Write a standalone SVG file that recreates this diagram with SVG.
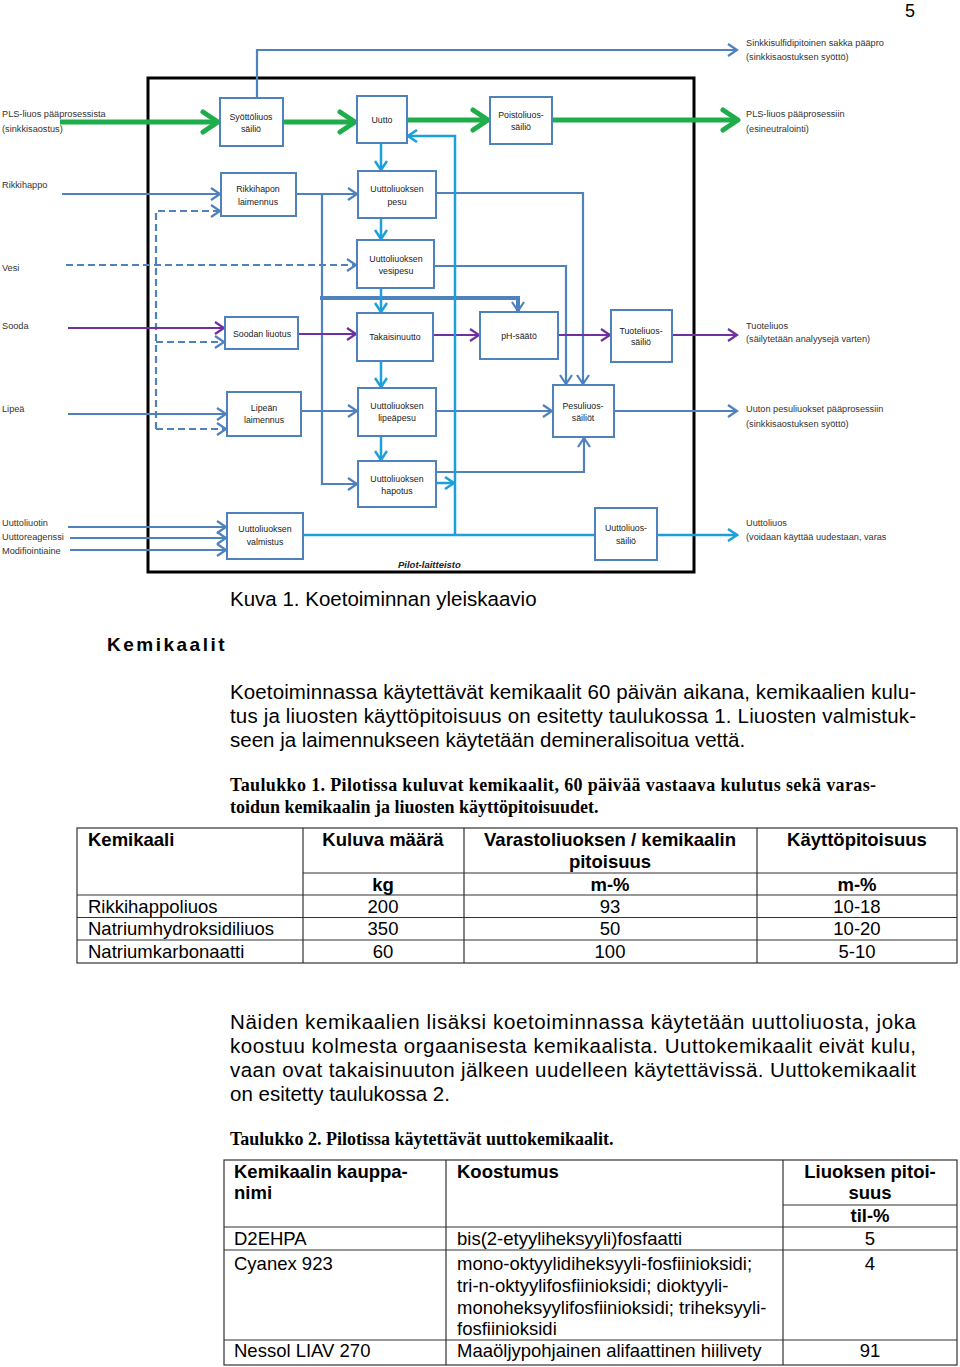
<svg xmlns="http://www.w3.org/2000/svg" width="960" height="1367" viewBox="0 0 960 1367">
<style>
.lbl{font-family:"Liberation Sans",Arial,sans-serif;font-size:9.2px;fill:#333}
.bt{font-family:"Liberation Sans",Arial,sans-serif;font-size:8.8px;fill:#222;text-anchor:middle}
.box{fill:#fff;stroke:#4f81bd;stroke-width:2}
.b{fill:none;stroke:#4f81bd;stroke-width:2.2}
.d{fill:none;stroke:#4f81bd;stroke-width:2.2;stroke-dasharray:7,4}
.c{fill:none;stroke:#1ca0dc;stroke-width:2.5}
.p{fill:none;stroke:#7030a0;stroke-width:2.2}
.g{fill:none;stroke:#1fad4b;stroke-width:5}
.body{font-family:"Liberation Sans",Arial,sans-serif;font-size:20.5px;fill:#000}
.cap{font-family:"Liberation Serif","Times New Roman",serif;font-size:18px;font-weight:bold;fill:#000}
.tt{font-family:"Liberation Sans",Arial,sans-serif;font-size:18.5px;fill:#000}
.th{font-family:"Liberation Sans",Arial,sans-serif;font-size:18.5px;font-weight:bold;fill:#000}
.mid{text-anchor:middle}
.tl{stroke:#333;stroke-width:1.2;fill:none}
</style>
<defs>
<marker id="ab" viewBox="0 0 12 14" refX="10" refY="7" markerWidth="12" markerHeight="14" markerUnits="userSpaceOnUse" orient="auto"><path d="M1,1 L10,7 L1,13" fill="none" stroke="#4f81bd" stroke-width="2.2"/></marker>
<marker id="ac" viewBox="0 0 12 14" refX="10" refY="7" markerWidth="12" markerHeight="14" markerUnits="userSpaceOnUse" orient="auto"><path d="M1,1 L10,7 L1,13" fill="none" stroke="#1ca0dc" stroke-width="2.5"/></marker>
<marker id="ap" viewBox="0 0 12 14" refX="10" refY="7" markerWidth="12" markerHeight="14" markerUnits="userSpaceOnUse" orient="auto"><path d="M1,1 L10,7 L1,13" fill="none" stroke="#7030a0" stroke-width="2.2"/></marker>
<marker id="ag" viewBox="0 0 22 26" refX="18" refY="13" markerWidth="22" markerHeight="26" markerUnits="userSpaceOnUse" orient="auto"><path d="M3,3 L18,13 L3,23" fill="none" stroke="#1fad4b" stroke-width="5" stroke-linecap="round" stroke-linejoin="round"/></marker>
</defs>
<rect width="960" height="1367" fill="#fff"/>
<text x="905" y="17" style="font-family:'Liberation Sans',Arial,sans-serif;font-size:18px">5</text>

<rect x="148" y="78" width="546" height="494" fill="none" stroke="#000" stroke-width="3"/>

<g id="connectors">
<path class="g" d="M60,122 H218" marker-end="url(#ag)"/>
<path class="g" d="M283,122 H355" marker-end="url(#ag)"/>
<path class="g" d="M407,120 H488" marker-end="url(#ag)"/>
<path class="g" d="M552,120 H738" marker-end="url(#ag)"/>
<path class="b" d="M257,98 V50 H737" marker-end="url(#ab)"/>
<path class="b" d="M62,194 H220" marker-end="url(#ab)"/>
<path class="b" d="M296,194 H357" marker-end="url(#ab)"/>
<path class="b" d="M322,194 V484 H357" marker-end="url(#ab)"/>
<path class="b" d="M68,414 H226" marker-end="url(#ab)"/>
<path class="b" d="M301,411 H357" marker-end="url(#ab)"/>
<path class="b" d="M68,527 H226" marker-end="url(#ab)"/>
<path class="b" d="M70,538 H226" marker-end="url(#ab)"/>
<path class="b" d="M70,550 H226" marker-end="url(#ab)"/>
<path class="b" style="stroke-width:4" d="M320,298 H518 V311" marker-end="url(#ab)"/>
<path class="b" d="M436,193 H583 V384" marker-end="url(#ab)"/>
<path class="b" d="M434,266 H566 V384" marker-end="url(#ab)"/>
<path class="b" d="M436,411 H552" marker-end="url(#ab)"/>
<path class="b" d="M436,472 H584 V438" marker-end="url(#ab)"/>
<path class="b" d="M614,411 H737" marker-end="url(#ab)"/>
<path class="d" d="M66,265 H356" marker-end="url(#ab)"/>
<path class="d" d="M156,429 V211 H220" marker-end="url(#ab)"/>
<path class="d" d="M156,342 H224" marker-end="url(#ab)"/>
<path class="d" d="M156,429 H226" marker-end="url(#ab)"/>
<path class="p" d="M68,328 H224" marker-end="url(#ap)"/>
<path class="p" d="M298,334 H356" marker-end="url(#ap)"/>
<path class="p" d="M433,335 H479" marker-end="url(#ap)"/>
<path class="p" d="M558,335 H610" marker-end="url(#ap)"/>
<path class="p" d="M672,335 H737" marker-end="url(#ap)"/>
<path class="c" d="M381,143 V170" marker-end="url(#ac)"/>
<path class="c" d="M381,218 V239" marker-end="url(#ac)"/>
<path class="c" d="M381,288 V312" marker-end="url(#ac)"/>
<path class="c" d="M381,361 V387" marker-end="url(#ac)"/>
<path class="c" d="M381,436 V460" marker-end="url(#ac)"/>
<path class="c" d="M303,535 H595"/>
<path class="c" d="M455,535 V136 H408" marker-end="url(#ac)"/>
<path class="c" d="M436,483 H454" marker-end="url(#ac)"/>
<path class="c" d="M657,535 H737" marker-end="url(#ac)"/>
</g>

<g id="n-syotto"><rect class="box" x="220" y="98" width="63" height="48"/><text class="bt" x="251" y="120">Syöttöliuos</text><text class="bt" x="251" y="132">säiliö</text></g>
<g id="n-uutto"><rect class="box" x="357" y="96" width="50" height="47"/><text class="bt" x="382" y="123">Uutto</text></g>
<g id="n-poisto"><rect class="box" x="490" y="97" width="62" height="47"/><text class="bt" x="521" y="118">Poistoliuos-</text><text class="bt" x="521" y="130">säiliö</text></g>
<g id="n-rikki"><rect class="box" x="221" y="173" width="75" height="43"/><text class="bt" x="258" y="192">Rikkihapon</text><text class="bt" x="258" y="205">laimennus</text></g>
<g id="n-pesu"><rect class="box" x="358" y="171" width="78" height="47"/><text class="bt" x="397" y="192">Uuttoliuoksen</text><text class="bt" x="397" y="205">pesu</text></g>
<g id="n-vesipesu"><rect class="box" x="357" y="240" width="77" height="48"/><text class="bt" x="396" y="262">Uuttoliuoksen</text><text class="bt" x="396" y="274">vesipesu</text></g>
<g id="n-sooda"><rect class="box" x="225" y="317" width="73" height="32"/><text class="bt" x="262" y="337">Soodan liuotus</text></g>
<g id="n-takaisin"><rect class="box" x="357" y="313" width="76" height="48"/><text class="bt" x="395" y="340">Takaisinuutto</text></g>
<g id="n-ph"><rect class="box" x="480" y="312" width="78" height="47"/><text class="bt" x="519" y="339">pH-säätö</text></g>
<g id="n-tuote"><rect class="box" x="611" y="310" width="61" height="52"/><text class="bt" x="641" y="334">Tuoteliuos-</text><text class="bt" x="641" y="345">säiliö</text></g>
<g id="n-lipean"><rect class="box" x="227" y="392" width="74" height="44"/><text class="bt" x="264" y="411">Lipeän</text><text class="bt" x="264" y="423">laimennus</text></g>
<g id="n-lipeapesu"><rect class="box" x="358" y="388" width="78" height="48"/><text class="bt" x="397" y="409">Uuttoliuoksen</text><text class="bt" x="397" y="421">lipeäpesu</text></g>
<g id="n-hapotus"><rect class="box" x="358" y="461" width="78" height="46"/><text class="bt" x="397" y="482">Uuttoliuoksen</text><text class="bt" x="397" y="494">hapotus</text></g>
<g id="n-valmistus"><rect class="box" x="227" y="513" width="76" height="46"/><text class="bt" x="265" y="532">Uuttoliuoksen</text><text class="bt" x="265" y="545">valmistus</text></g>
<g id="n-pesuliuos"><rect class="box" x="553" y="385" width="61" height="52"/><text class="bt" x="583" y="409">Pesuliuos-</text><text class="bt" x="583" y="421">säiliöt</text></g>
<g id="n-uuttoliuos"><rect class="box" x="595" y="508" width="62" height="52"/><text class="bt" x="626" y="531">Uuttoliuos-</text><text class="bt" x="626" y="544">säiliö</text></g>

<g id="labels">
<text class="lbl" x="2" y="117">PLS-liuos pääprosessista</text>
<text class="lbl" x="2" y="132">(sinkkisaostus)</text>
<text class="lbl" x="2" y="188">Rikkihappo</text>
<text class="lbl" x="2" y="271">Vesi</text>
<text class="lbl" x="2" y="329">Sooda</text>
<text class="lbl" x="2" y="412">Lipeä</text>
<text class="lbl" x="2" y="526">Uuttoliuotin</text>
<text class="lbl" x="2" y="540">Uuttoreagenssi</text>
<text class="lbl" x="2" y="554">Modifiointiaine</text>
<text class="lbl" x="746" y="46">Sinkkisulfidipitoinen sakka pääpro</text>
<text class="lbl" x="746" y="60">(sinkkisaostuksen syöttö)</text>
<text class="lbl" x="746" y="117">PLS-liuos pääprosessiin</text>
<text class="lbl" x="746" y="132">(esineutralointi)</text>
<text class="lbl" x="746" y="329">Tuoteliuos</text>
<text class="lbl" x="746" y="342">(säilytetään analyysejä varten)</text>
<text class="lbl" x="746" y="412">Uuton pesuliuokset pääprosessiin</text>
<text class="lbl" x="746" y="427">(sinkkisaostuksen syöttö)</text>
<text class="lbl" x="746" y="526">Uuttoliuos</text>
<text class="lbl" x="746" y="540">(voidaan käyttää uudestaan, varas</text>
<text x="398" y="568" style="font-family:'Liberation Sans',Arial,sans-serif;font-size:9.5px;font-weight:bold;font-style:italic;fill:#222">Pilot-laitteisto</text>
</g>

<text class="body" x="230" y="606">Kuva 1. Koetoiminnan yleiskaavio</text>
<text x="107" y="651" style="font-family:'Liberation Sans',Arial,sans-serif;font-size:19px;font-weight:bold;letter-spacing:2.5px">Kemikaalit</text>

<text class="body" x="230" y="699" textLength="686" lengthAdjust="spacing">Koetoiminnassa käytettävät kemikaalit 60 päivän aikana, kemikaalien kulu-</text>
<text class="body" x="230" y="723" textLength="686" lengthAdjust="spacing">tus ja liuosten käyttöpitoisuus on esitetty taulukossa 1. Liuosten valmistuk-</text>
<text class="body" x="230" y="747">seen ja laimennukseen käytetään demineralisoitua vettä.</text>

<text class="cap" x="230" y="791" textLength="646" lengthAdjust="spacing">Taulukko 1. Pilotissa kuluvat kemikaalit, 60 päivää vastaava kulutus sekä varas-</text>
<text class="cap" x="230" y="813">toidun kemikaalin ja liuosten käyttöpitoisuudet.</text>

<g id="table1">
<rect class="tl" x="77" y="828" width="880" height="135"/>
<path class="tl" d="M303,828 V963 M464,828 V963 M757,828 V963 M303,873 H957 M77,895 H957 M77,917.5 H957 M77,940 H957"/>
<text class="th" x="88" y="846">Kemikaali</text>
<text class="th mid" x="383" y="846">Kuluva määrä</text>
<text class="th mid" x="610" y="846">Varastoliuoksen / kemikaalin</text>
<text class="th mid" x="610" y="868">pitoisuus</text>
<text class="th mid" x="857" y="846">Käyttöpitoisuus</text>
<text class="th mid" x="383" y="891">kg</text>
<text class="th mid" x="610" y="891">m-%</text>
<text class="th mid" x="857" y="891">m-%</text>
<text class="tt" x="88" y="913">Rikkihappoliuos</text>
<text class="tt mid" x="383" y="913">200</text>
<text class="tt mid" x="610" y="913">93</text>
<text class="tt mid" x="857" y="913">10-18</text>
<text class="tt" x="88" y="935">Natriumhydroksidiliuos</text>
<text class="tt mid" x="383" y="935">350</text>
<text class="tt mid" x="610" y="935">50</text>
<text class="tt mid" x="857" y="935">10-20</text>
<text class="tt" x="88" y="958">Natriumkarbonaatti</text>
<text class="tt mid" x="383" y="958">60</text>
<text class="tt mid" x="610" y="958">100</text>
<text class="tt mid" x="857" y="958">5-10</text>
</g>

<text class="body" x="230" y="1029" textLength="686" lengthAdjust="spacing">Näiden kemikaalien lisäksi koetoiminnassa käytetään uuttoliuosta, joka</text>
<text class="body" x="230" y="1053" textLength="686" lengthAdjust="spacing">koostuu kolmesta orgaanisesta kemikaalista. Uuttokemikaalit eivät kulu,</text>
<text class="body" x="230" y="1077" textLength="686" lengthAdjust="spacing">vaan ovat takaisinuuton jälkeen uudelleen käytettävissä. Uuttokemikaalit</text>
<text class="body" x="230" y="1101">on esitetty taulukossa 2.</text>

<text class="cap" x="230" y="1145">Taulukko 2. Pilotissa käytettävät uuttokemikaalit.</text>

<g id="table2">
<rect class="tl" x="224" y="1160" width="733" height="205"/>
<path class="tl" d="M446,1160 V1365 M783,1160 V1365 M783,1205 H957 M224,1227 H957 M224,1250 H957 M224,1340 H957"/>
<text class="th" x="234" y="1178">Kemikaalin kauppa-</text>
<text class="th" x="234" y="1199">nimi</text>
<text class="th" x="457" y="1178">Koostumus</text>
<text class="th mid" x="870" y="1178">Liuoksen pitoi-</text>
<text class="th mid" x="870" y="1199">suus</text>
<text class="th mid" x="870" y="1222">til-%</text>
<text class="tt" x="234" y="1245">D2EHPA</text>
<text class="tt" x="457" y="1245">bis(2-etyyliheksyyli)fosfaatti</text>
<text class="tt mid" x="870" y="1245">5</text>
<text class="tt" x="234" y="1270">Cyanex 923</text>
<text class="tt" x="457" y="1270">mono-oktyylidiheksyyli-fosfiinioksidi;</text>
<text class="tt" x="457" y="1292">tri-n-oktyylifosfiinioksidi; dioktyyli-</text>
<text class="tt" x="457" y="1314">monoheksyylifosfiinioksidi; triheksyyli-</text>
<text class="tt" x="457" y="1335">fosfiinioksidi</text>
<text class="tt mid" x="870" y="1270">4</text>
<text class="tt" x="234" y="1357">Nessol LIAV 270</text>
<text class="tt" x="457" y="1357">Maaöljypohjainen alifaattinen hiilivety</text>
<text class="tt mid" x="870" y="1357">91</text>
</g>
</svg>
